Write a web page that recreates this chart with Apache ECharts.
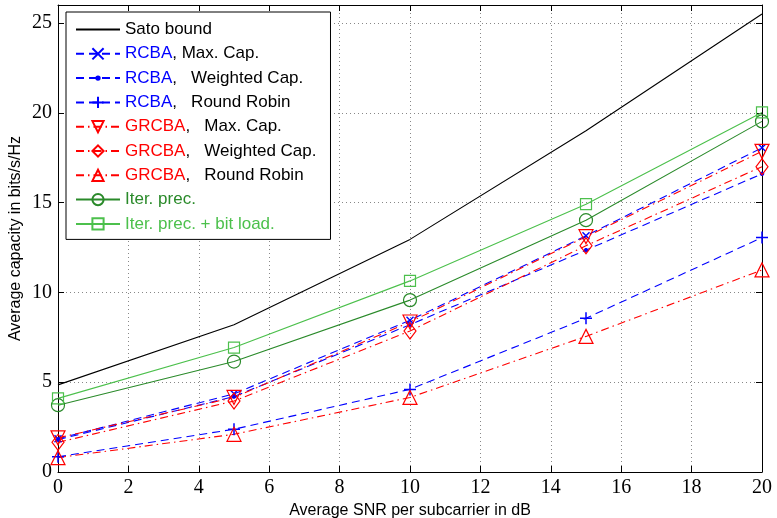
<!DOCTYPE html>
<html>
<head>
<meta charset="utf-8">
<script src="https://cdn.jsdelivr.net/npm/echarts@6/dist/echarts.min.js"></script>
<style>
html,body{margin:0;padding:0;background:#fff;}
#chart{width:777px;height:518px;}
</style>
</head>
<body>
<div id="chart"></div>
<script>
// SNR points (dB)
var snr = [0, 5, 10, 15, 20];
// capacity (bits/s/Hz)
var sato       = [4.85, 8.2, 12.95, 19.0, 25.5];
var rcbaMax    = [1.85, 4.35, 8.45, 13.15, 18.05];
var rcbaWeight = [1.8, 4.2, 8.2, 12.35, 16.6];
var rcbaRR     = [0.85, 2.38, 4.6, 8.56, 13.05];
var grcbaMax   = [1.9, 4.15, 8.35, 13.1, 17.85];
var grcbaWeight= [1.65, 3.95, 7.85, 12.6, 17.0];
var grcbaRR    = [0.8, 2.1, 4.15, 7.55, 11.25];
var iterPrec   = [3.72, 6.15, 9.57, 14.02, 19.52];
var iterBit    = [4.1, 6.93, 10.64, 14.91, 20.02];

var xTicks = [0, 2, 4, 6, 8, 10, 12, 14, 16, 18, 20];
var yTicks = [0, 5, 10, 15, 20, 25];

var BLUE = '#0000ff', RED = '#ff0000', GREEN1 = '#2a8a2a', GREEN2 = '#4cc04c';
var SERIF = '"Liberation Serif", "DejaVu Serif", serif';
var SANS = '"Liberation Sans", Arial, sans-serif';

function pairs(ys){
	return snr.map(function(x, i){ return [x, ys[i]]; });
}

var legendText = {
	'Sato bound': '{k|Sato bound}',
	'RCBA, Max. Cap.': '{b|RCBA}{k|, Max. Cap.}',
	'RCBA,  Weighted Cap.': '{b|RCBA}{k|,   Weighted Cap.}',
	'RCBA,  Round Robin': '{b|RCBA}{k|,   Round Robin}',
	'GRCBA,  Max. Cap.': '{r|GRCBA}{k|,   Max. Cap.}',
	'GRCBA,  Weighted Cap.': '{r|GRCBA}{k|,   Weighted Cap.}',
	'GRCBA,  Round Robin': '{r|GRCBA}{k|,   Round Robin}',
	'Iter. prec.': '{g|Iter. prec.}',
	'Iter. prec. + bit load.': '{h|Iter. prec. + bit load.}'
};

function line(name, data, color, dash, symbol, size, rotate, width){
	return {
		name: name,
		type: 'line',
		data: pairs(data),
		symbol: symbol || 'circle',
		symbolSize: size || 10,
		symbolRotate: rotate || 0,
		showSymbol: !!symbol,
		lineStyle: {color: color, width: 1.1, type: dash || 'solid'},
		itemStyle: {color: 'transparent', borderColor: color, borderWidth: symbol ? (width || 1.2) : 0},
		animation: false
	};
}

var crossPath = 'path://M0,0L10,10M10,0L0,10';
var plusPath = 'path://M5,0L5,10M0,5L10,5';
// small dot inside a wider box so the legend draws it small too
var dotPath = 'path://M0,0L0,0M10,10L10,10M3.5,5A1.5,1.5,0,1,0,6.5,5A1.5,1.5,0,1,0,3.5,5Z';
var dashB = [8, 5];
var dashR = [8, 4, 1.5, 4];

var series = [
	line('Sato bound', sato, '#000', 'solid'),
	line('RCBA, Max. Cap.', rcbaMax, BLUE, dashB, crossPath, 7, 0, 1.4),
	line('RCBA,  Weighted Cap.', rcbaWeight, BLUE, dashB, dotPath, 12, 0, 1),
	line('RCBA,  Round Robin', rcbaRR, BLUE, dashB, plusPath, 12, 0, 1.5),
	line('GRCBA,  Max. Cap.', grcbaMax, RED, dashR, 'triangle', 14, 180),
	line('GRCBA,  Weighted Cap.', grcbaWeight, RED, dashR, 'diamond', [12, 16]),
	line('GRCBA,  Round Robin', grcbaRR, RED, dashR, 'triangle', 14),
	line('Iter. prec.', iterPrec, GREEN1, 'solid', 'circle', 13),
	line('Iter. prec. + bit load.', iterBit, GREEN2, 'solid', 'rect', 11)
];
// weighted cap dot is filled
series[2].itemStyle.color = BLUE;

var gridLine = {show: true, lineStyle: {color: '#888', type: [1, 3], width: 1}};
var axLine = {show: true, onZero: false, lineStyle: {color: '#000', width: 1}};
var inTick = {show: true, inside: true, length: 6, lineStyle: {color: '#000'}};

var rt = function(c){ return {color: c, fontFamily: SANS, fontSize: 17, lineHeight: 17}; };

var option = {
	backgroundColor: '#fff',
	animation: false,
	grid: {left: 58, right: 15, top: 5, bottom: 46, outerBoundsMode: 'none', containLabel: false},
	legend: {
		orient: 'vertical',
		left: 66, top: 12,
		padding: [9, 14, 7, 9],
		itemWidth: 44, itemHeight: 14, itemGap: 7.3,
		backgroundColor: '#fff',
		borderColor: '#000', borderWidth: 1,
		data: series.map(function(s){ return s.name; }),
		formatter: function(name){ return legendText[name]; },
		textStyle: {
			fontFamily: SANS, fontSize: 17, color: '#000',
			rich: {k: rt('#000'), b: rt(BLUE), r: rt(RED), g: rt(GREEN1), h: rt(GREEN2)}
		}
	},
	xAxis: [{
		type: 'value', min: 0, max: 20, interval: 2,
		name: 'Average SNR per subcarrier in dB',
		nameLocation: 'middle', nameGap: 30,
		nameTextStyle: {fontFamily: SANS, fontSize: 16, color: '#000'},
		axisLine: axLine, axisTick: inTick, splitLine: gridLine,
		axisLabel: {
			fontFamily: SERIF, fontSize: 20, color: '#000', margin: 6,
			formatter: function(v){ return xTicks.indexOf(v) >= 0 ? String(v) : ''; }
		}
	}, {
		type: 'value', position: 'top', min: 0, max: 20, interval: 2,
		axisLine: axLine, axisTick: inTick, splitLine: {show: false}, axisLabel: {show: false}
	}],
	yAxis: [{
		type: 'value', min: 0, max: 26, interval: 5,
		name: 'Average capacity in bits/s/Hz',
		nameLocation: 'middle', nameGap: 34, nameRotate: 90, nameMoveOverlap: false,
		nameTextStyle: {fontFamily: SANS, fontSize: 16, color: '#000'},
		axisLine: axLine, axisTick: inTick, splitLine: gridLine,
		axisLabel: {
			fontFamily: SERIF, fontSize: 20, color: '#000', margin: 6,
			formatter: function(v){ return yTicks.indexOf(v) >= 0 ? String(v) : ''; }
		}
	}, {
		type: 'value', position: 'right', min: 0, max: 26, interval: 5,
		axisLine: axLine, axisTick: inTick, splitLine: {show: false}, axisLabel: {show: false}
	}],
	series: series
};

var chart = echarts.init(document.getElementById('chart'));
chart.setOption(option);
</script>
</body>
</html>
